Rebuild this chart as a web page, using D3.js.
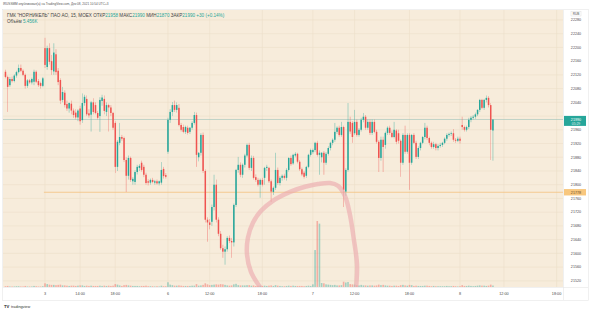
<!DOCTYPE html>
<html lang="ru">
<head>
<meta charset="UTF-8">
<title>ГМК НОР.НИКЕЛЬ, 15, MOEX</title>
<script src="https://d3js.org/d3.v7.min.js"></script>
<style>
  body { margin: 0; background: #fff; }
  text { font-family: "Liberation Sans", Arial, sans-serif; }
</style>
</head>
<body>
<svg width="590" height="312"></svg>
<script>
// 15-minute candles [open, high, low, close], Dec 2 evening .. Dec 8 10:45
const ohlc = [
  [22129,22135,22110,22114],[22114,22118,22012,22085],[22090,22114,22085,22108],[22108,22115,22098,22102],
  [22102,22122,22098,22118],[22118,22132,22112,22128],[22128,22150,22124,22140],[22140,22150,22128,22132],
  [22132,22136,22116,22120],[22120,22124,22080,22088],[22088,22108,22082,22104],[22104,22108,22094,22098],
  [22098,22112,22092,22108],[22100,22135,22090,22129],[22129,22133,22096,22100],[22102,22108,22085,22090],
  [22096,22100,22080,22088],[22088,22114,22084,22110],
  // Dec 3
  [22198,22228,22140,22149],[22143,22205,22135,22198],[22198,22212,22150,22158],[22160,22178,22120,22134],
  [22130,22212,22120,22185],[22180,22195,22120,22128],[22132,22140,22090,22099],[22105,22110,22035,22045],
  [22047,22085,22040,22070],[22068,22075,22025,22032],[22035,22045,22015,22022],[22022,22040,22010,22038],
  [22036,22045,22005,22016],[22016,22022,21995,22003],[22010,22020,21990,21996],[21996,22020,21985,22016],
  [22022,22030,21975,21985],[21988,22066,21980,22038],[22038,22062,22030,22056],[22050,22060,22000,22005],
  [22008,22020,21995,22002],[22004,22044,21955,22040],[22040,22052,22005,22012],[22032,22040,22005,22009],
  [22009,22015,21990,21995],[22000,22055,21954,22047],[22044,22062,22030,22054],[22050,22060,22005,22015],
  [22012,22040,22000,22032],[22032,22036,21955,22025],[22025,22032,22000,22009],[22009,22012,21960,21966],
  [21980,21985,21834,21852],[21852,21930,21840,21925],[21922,21980,21915,21939],[21939,21945,21928,21934],
  [21936,21940,21866,21872],[21872,21880,21779,21826],[21826,21885,21815,21878],[21878,21882,21808,21814],
  [21810,21822,21800,21817],[21808,21842,21800,21837],[21837,21858,21830,21852],[21849,21860,21840,21855],
  [21864,21870,21838,21843],[21852,21858,21822,21829],[21829,21835,21800,21805],[21810,21816,21798,21806],
  [21806,21818,21800,21814],[21814,21820,21804,21808],[21806,21814,21800,21810],[21810,21815,21800,21804],
  [21804,21812,21798,21810],[21806,21866,21800,21843],[21846,21852,21818,21825],[21828,21834,21818,21823],
  // Dec 6
  [21896,21995,21890,21989],[21989,22020,21980,22012],[22012,22041,22000,22032],[22032,22045,22012,22018],
  [22018,22040,22010,22032],[22024,22035,21970,21974],[21974,21980,21955,21960],[21968,21975,21950,21954],
  [21954,21972,21948,21968],[21966,21972,21946,21951],[21954,21968,21948,21966],[21966,21985,21960,21980],
  [21980,22012,21975,22003],[22003,22010,21852,21887],[21880,21895,21868,21893],[21893,21950,21885,21945],
  [21945,21952,21834,21840],[21840,21845,21690,21698],[21698,21705,21634,21690],[21690,21700,21670,21683],
  [21692,21742,21680,21735],[21735,21829,21725,21800],[21800,21815,21690,21698],[21698,21705,21650,21657],
  [21657,21665,21610,21615],[21615,21625,21587,21605],[21605,21620,21567,21612],[21612,21650,21605,21645],
  [21645,21652,21630,21636],[21636,21645,21587,21632],[21632,21745,21620,21741],[21741,21846,21735,21843],
  [21843,21881,21835,21858],[21858,21865,21822,21829],[21829,21862,21820,21858],[21858,21890,21850,21885],
  [21885,21920,21880,21916],[21916,21922,21843,21849],[21849,21885,21840,21878],[21878,21884,21815,21820],
  [21822,21830,21808,21814],[21814,21820,21795,21800],[21800,21818,21762,21814],[21814,21820,21795,21800],
  [21820,21852,21800,21849],[21849,21858,21840,21852],[21849,21852,21805,21810],[21810,21815,21750,21780],
  [21779,21795,21770,21791],[21791,21893,21785,21843],[21843,21850,21800,21805],[21805,21825,21798,21820],
  [21820,21830,21812,21826],[21826,21832,21815,21820],[21820,21848,21812,21843],[21843,21880,21838,21878],
  [21878,21885,21855,21860],[21862,21890,21858,21887],[21885,21895,21880,21890],[21890,21893,21862,21867],
  [21867,21872,21840,21845],[21845,21850,21825,21830],[21835,21840,21818,21823],[21826,21855,21820,21852],
  [21852,21890,21848,21887],[21887,21905,21882,21901],
  // Dec 7
  [21895,21905,21890,21901],[21901,21925,21895,21922],[21922,21928,21882,21887],[21887,21900,21829,21893],
  [21880,21895,21865,21893],[21893,21898,21829,21864],[21864,21895,21858,21890],[21890,21912,21885,21907],
  [21907,21925,21900,21922],[21922,21935,21915,21931],[21931,21980,21925,21954],[21954,21970,21948,21966],
  [21966,21972,21940,21945],[21945,21983,21940,21968],[21968,21972,21735,21785],[21780,21848,21768,21843],
  [21843,22038,21838,21983],[21983,21998,21948,21955],[21980,21985,21922,21939],[21950,22018,21945,21983],
  [21983,21990,21940,21945],[21945,21965,21940,21960],[21960,21995,21955,21989],[21989,22009,21982,21998],
  [21998,22003,21960,21966],[21966,21990,21960,21983],[21983,21990,21945,21951],[21951,21990,21945,21983],
  [21983,21990,21950,21954],[21954,21960,21920,21925],[21925,21930,21837,21878],[21878,21940,21870,21931],
  [21931,21940,21837,21910],[21916,21955,21905,21951],[21951,21970,21945,21966],[21966,21972,21945,21951],
  [21951,21958,21936,21939],[21939,21983,21935,21960],[21958,21962,21918,21925],[21950,21960,21920,21928],
  [21928,21932,21823,21864],[21864,21950,21858,21945],[21945,21972,21890,21896],[21896,21950,21890,21945],
  [21945,21950,21785,21864],[21864,21948,21858,21945],[21945,21950,21918,21922],[21922,21928,21875,21881],
  [21881,21912,21875,21907],[21907,21925,21900,21922],[21922,21942,21918,21939],[21939,21980,21932,21966],
  [21966,21972,21930,21936],[21936,21940,21915,21922],[21922,21926,21905,21910],[21910,21925,21905,21918],
  [21918,21922,21900,21907],[21907,21918,21900,21913],[21913,21922,21908,21916],[21916,21925,21910,21922],
  [21922,21938,21918,21934],[21934,21950,21928,21945],[21945,21952,21940,21948],[21948,21955,21942,21950],
  [21950,21962,21925,21931],[21931,21936,21922,21928],[21928,21940,21924,21934],[21934,21940,21920,21928],
  // Dec 8
  [21974,21998,21960,21968],[21968,21972,21955,21960],[21960,21972,21955,21968],[21968,21995,21962,21989],
  [21989,22000,21982,21995],[21995,22003,21990,21998],[21998,22010,21992,22005],[22005,22020,22000,22018],
  [22018,22050,22012,22047],[22047,22050,22020,22024],[22024,22050,22018,22047],[22047,22060,22040,22053],
  [22053,22058,22025,22032],[22032,22038,21872,21960],[21958,21990,21870,21990]
];

// volume per bar, thousands
const volumes = [
  3,4,2,2,2,3,3,2,2,4, 2,2,2,4,3,2,2,3,
  14,11,9,8,8,7,8,9,6,6, 5,4,5,5,4,5,6,6,4,5, 4,5,4,4,4,5,4,5,4,5,
  4,5,11,9,6,4,7,8,6,5, 4,4,4,3,4,4,5,3,3,3, 2,3,2,5,3,3,
  18,9,7,5,5,6,5,4,4,4, 4,5,5,11,5,6,8,14,10,7, 8,9,10,9,11,10,8,6,5,6,
  10,12,7,6,6,6,7,7,5,6, 4,5,5,4,5,4,5,6,4,7, 5,4,3,3,4,5,4,5,4,4, 4,4,3,4,5,4,
  10,140,250,240,15,14,10,9,8,7, 8,6,6,7,20,17,19,11,10,9, 7,6,8,6,6,5,6,6,5,6,
  9,7,8,6,5,5,4,5,5,4, 7,8,6,5,8,7,4,5,4,4, 4,5,5,4,3,4,3,3,3,3, 3,4,3,3,4,3,2,3,
  7,4,4,5,4,3,4,5,6,5, 5,4,5,9,5.456
];

const priceTicks = [22280,22240,22200,22160,22120,22080,22040,22000,21960,21920,
                    21880,21840,21800,21760,21720,21680,21640,21600,21560,21520];
const timeTickIdx = [18, 34, 50, 74, 93, 117, 140, 159, 184, 207, 227, 251];
const timeTickLabels = ["3","14:00","18:00","6","12:00","18:00","7","12:00","18:00","8","12:00","18:00"];

const lastPrice = 21990;
const levelPrice = 21778;
const levelFromIdx = 17.5;

// hand-drawn circle, [bar index, price]
const sketch = [
  [116.8,21494],[111.8,21546],[110.0,21596],[110.4,21645],[112.7,21689],[116.4,21724],
  [121.8,21753],[129.6,21779],[136.4,21794],[142.3,21802],[147.8,21805],[151.4,21797],
  [154.6,21767],[156.9,21712],[158.7,21639],[160.1,21567],[159.6,21494]
];

const svg = d3.select("svg");
const W = 590, H = 312;
const plot = { left: 3, right: 563, top: 10, bottom: 287 };
const axisRight = 588, axisBottom = 300;

const x = d3.scaleLinear().domain([18, 207]).range([45, 460]);
const y = d3.scaleLinear().domain([21502, 22309]).range([plot.bottom, plot.top]);
const vh = d3.scaleLinear().domain([0, 250]).range([0, 66]);

const up = "#26a69a", down = "#ef5350";

svg.append("rect").attr("width", W).attr("height", H).attr("fill", "#fff");

svg.append("defs").append("clipPath").attr("id", "clip")
  .append("rect")
  .attr("x", plot.left).attr("y", plot.top)
  .attr("width", plot.right - plot.left).attr("height", plot.bottom - plot.top);

// frame + background
svg.append("rect")
  .attr("x", plot.left - 0.5).attr("y", plot.top - 0.5)
  .attr("width", axisRight - plot.left + 1).attr("height", axisBottom - plot.top + 1)
  .attr("fill", "#fff").attr("stroke", "#e6e6e6").attr("stroke-width", 0.6);

svg.append("rect")
  .attr("x", plot.left).attr("y", plot.top)
  .attr("width", plot.right - plot.left).attr("height", plot.bottom - plot.top)
  .attr("fill", "#f7ecdb");

const g = svg.append("g").attr("clip-path", "url(#clip)");

// grid
g.append("g").selectAll("line").data(priceTicks).join("line")
  .attr("x1", plot.left).attr("x2", plot.right)
  .attr("y1", d => y(d)).attr("y2", d => y(d))
  .attr("stroke", "#ecdfc9").attr("stroke-width", 0.6);

g.append("g").selectAll("line").data(timeTickIdx).join("line")
  .attr("x1", d => x(d)).attr("x2", d => x(d))
  .attr("y1", plot.top).attr("y2", plot.bottom)
  .attr("stroke", "#ecdfc9").attr("stroke-width", 0.6);

// volume
g.append("g").selectAll("rect").data(ohlc).join("rect")
  .attr("x", (d, i) => x(i) - 0.8)
  .attr("width", 1.6)
  .attr("y", (d, i) => plot.bottom - vh(volumes[i] || 0))
  .attr("height", (d, i) => vh(volumes[i] || 0))
  .attr("fill", d => d[3] >= d[0] ? up : down)
  .attr("opacity", 0.4);

// level line and last price line
g.append("line")
  .attr("x1", x(levelFromIdx)).attr("x2", plot.right)
  .attr("y1", y(levelPrice)).attr("y2", y(levelPrice))
  .attr("stroke", "#f4c27e").attr("stroke-width", 0.8);

g.append("line")
  .attr("x1", plot.left).attr("x2", plot.right)
  .attr("y1", y(lastPrice)).attr("y2", y(lastPrice))
  .attr("stroke", "#9cc3ba").attr("stroke-width", 0.6);

// candles
const c = g.append("g").selectAll("g").data(ohlc).join("g");
c.append("line")
  .attr("x1", (d, i) => x(i)).attr("x2", (d, i) => x(i))
  .attr("y1", d => y(d[1])).attr("y2", d => y(d[2]))
  .attr("stroke", d => d[3] >= d[0] ? up : down)
  .attr("stroke-width", 0.5).attr("opacity", 0.75);
c.append("rect")
  .attr("x", (d, i) => x(i) - 0.75)
  .attr("width", 1.5)
  .attr("y", d => y(Math.max(d[0], d[3])))
  .attr("height", d => Math.max(0.7, Math.abs(y(d[0]) - y(d[3]))))
  .attr("fill", d => d[3] >= d[0] ? up : down);

// hand drawn circle
g.append("path")
  .datum(sketch)
  .attr("d", d3.line().x(d => x(d[0])).y(d => y(d[1])).curve(d3.curveCatmullRom))
  .attr("fill", "none")
  .attr("stroke", "#eba7ab").attr("stroke-width", 4.5)
  .attr("stroke-linecap", "round").attr("opacity", 0.6);

// price axis
svg.append("line")
  .attr("x1", plot.right + 0.5).attr("x2", plot.right + 0.5)
  .attr("y1", plot.top).attr("y2", axisBottom)
  .attr("stroke", "#e6e6e6").attr("stroke-width", 0.6);

svg.append("g").selectAll("text")
  .data(priceTicks.filter(p => Math.abs(y(p) - y(lastPrice)) > 4))
  .join("text")
  .attr("x", 576).attr("y", d => y(d) + 1.3)
  .attr("text-anchor", "middle")
  .attr("font-size", 3.7).attr("fill", "#4a4a4a")
  .text(d => d);

svg.append("rect")
  .attr("x", 571).attr("y", 11.6).attr("width", 10).attr("height", 4.4)
  .attr("fill", "#fff").attr("stroke", "#d8d8d8").attr("stroke-width", 0.4);
svg.append("text")
  .attr("x", 576).attr("y", 15).attr("text-anchor", "middle")
  .attr("font-size", 3.2).attr("fill", "#4a4a4a").text("RUB");

// last price tag
const ly = y(lastPrice);
svg.append("rect")
  .attr("x", 564).attr("y", ly - 3.6).attr("width", 22).attr("height", 10)
  .attr("fill", up);
svg.append("text")
  .attr("x", 576).attr("y", ly + 1.2).attr("text-anchor", "middle")
  .attr("font-size", 3.7).attr("fill", "#fff").text(lastPrice);
svg.append("text")
  .attr("x", 576).attr("y", ly + 5.4).attr("text-anchor", "middle")
  .attr("font-size", 3.4).attr("fill", "#fff").attr("opacity", 0.85).text("05:29");

// level tag
const oy = y(levelPrice);
svg.append("rect")
  .attr("x", 564).attr("y", oy - 3.2).attr("width", 22).attr("height", 6.4)
  .attr("fill", "#f8c77e");
svg.append("text")
  .attr("x", 576).attr("y", oy + 1.3).attr("text-anchor", "middle")
  .attr("font-size", 3.7).attr("fill", "#6a4a1e").text(levelPrice);

// time axis
svg.append("line")
  .attr("x1", plot.left).attr("x2", axisRight)
  .attr("y1", plot.bottom + 0.5).attr("y2", plot.bottom + 0.5)
  .attr("stroke", "#e6e6e6").attr("stroke-width", 0.6);

svg.append("g").selectAll("text")
  .data(timeTickIdx).join("text")
  .attr("x", d => x(d)).attr("y", 295)
  .attr("text-anchor", "middle")
  .attr("font-size", 3.8).attr("fill", "#4a4a4a")
  .text((d, i) => timeTickLabels[i]);

// header and legend
svg.append("text")
  .attr("x", 3).attr("y", 4.6)
  .attr("font-size", 3.1).attr("fill", "#555")
  .text("IRUSSMM опубликовал(а) на TradingView.com, Дек 08, 2021 10:54 UTC+3");

const last = ohlc[ohlc.length - 1];
const legend = svg.append("text")
  .attr("x", 7).attr("y", 16.6)
  .attr("font-size", 4.6).attr("fill", "#444");
legend.append("tspan").text("ГМК \"НОР.НИКЕЛЬ\" ПАО АО, 15, MOEX  ");
[["ОТКР", last[0]], ["МАКС", last[1]], ["МИН", last[2]], ["ЗАКР", last[3]]].forEach(([k, v]) => {
  legend.append("tspan").attr("fill", "#444").text(" " + k);
  legend.append("tspan").attr("fill", up).text(v);
});
legend.append("tspan").attr("fill", up).text("  +30 (+0.14%)");

const vleg = svg.append("text")
  .attr("x", 7).attr("y", 22.6)
  .attr("font-size", 4.6).attr("fill", "#444");
vleg.append("tspan").text("Объём  ");
vleg.append("tspan").attr("fill", up).text(volumes[volumes.length - 1].toFixed(3) + "K");

// footer logo
svg.append("text")
  .attr("x", 4).attr("y", 308)
  .attr("font-size", 4.2).attr("font-weight", "bold").attr("fill", "#222")
  .text("TV");
svg.append("text")
  .attr("x", 11).attr("y", 308)
  .attr("font-size", 3.8).attr("fill", "#333")
  .text("tradingview");
</script>
</body>
</html>
